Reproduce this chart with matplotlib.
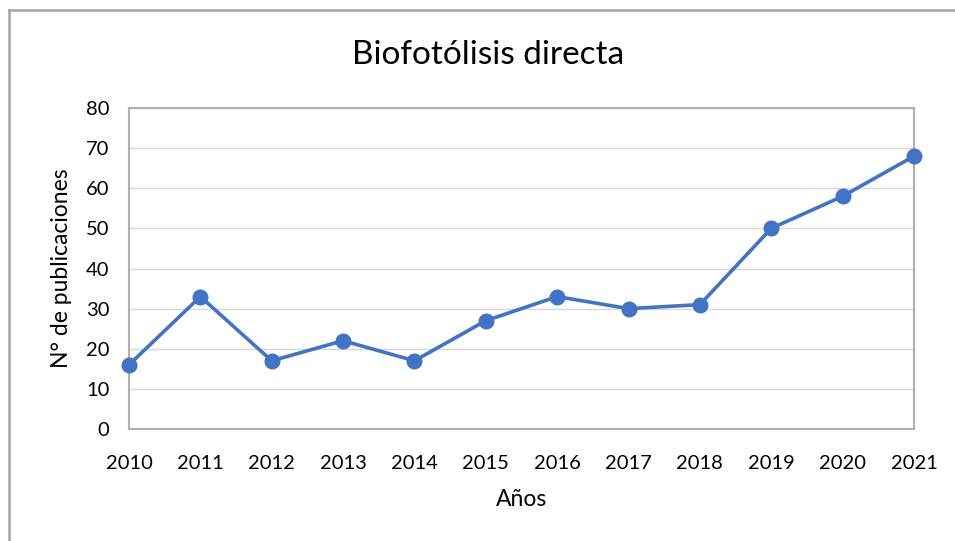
import matplotlib.pyplot as plt
from matplotlib.lines import Line2D

years = [2010, 2011, 2012, 2013, 2014, 2015, 2016, 2017, 2018, 2019, 2020, 2021]
publications = [16, 33, 17, 22, 17, 27, 33, 30, 31, 50, 58, 68]

plt.rcParams['font.family'] = ['Lato', 'DejaVu Sans']

fig = plt.figure(figsize=(9.55, 5.41), dpi=100)
ax = fig.add_axes([129 / 955, 112 / 541, 785 / 955, 321 / 541])

ax.plot(years, publications, color='#4472C4', linewidth=2.6,
        marker='o', markersize=10.5, zorder=3, clip_on=False)

ax.set_xlim(2010, 2021)
ax.set_ylim(0, 80)
ax.set_xticks(years)
ax.set_yticks(range(0, 81, 10))
ax.grid(axis='y', color='#D9D9D9', linewidth=1)
ax.set_axisbelow(True)
for side in ax.spines.values():
    side.set_color('#B0B0B0')
    side.set_linewidth(1.5)
ax.tick_params(length=0, labelsize=14.5)
ax.tick_params(axis='x', pad=19)
ax.tick_params(axis='y', pad=14)

ax.set_xlabel('Años', fontsize=16.5, labelpad=12)
ax.set_ylabel('N° de publicaciones', fontsize=16.5, labelpad=10)
fig.text(488 / 955, 1 - 55 / 541, 'Biofotólisis directa', fontsize=24,
         ha='center', va='center')

# outer chart frame
fig.add_artist(Line2D([8.5 / 955, 8.5 / 955], [0, 1 - 9.5 / 541],
                      transform=fig.transFigure, color='#A6A6A6', linewidth=1.8))
fig.add_artist(Line2D([8.5 / 955, 1], [1 - 9.5 / 541, 1 - 9.5 / 541],
                      transform=fig.transFigure, color='#A6A6A6', linewidth=1.8))

fig.savefig('out.png', dpi=100)
